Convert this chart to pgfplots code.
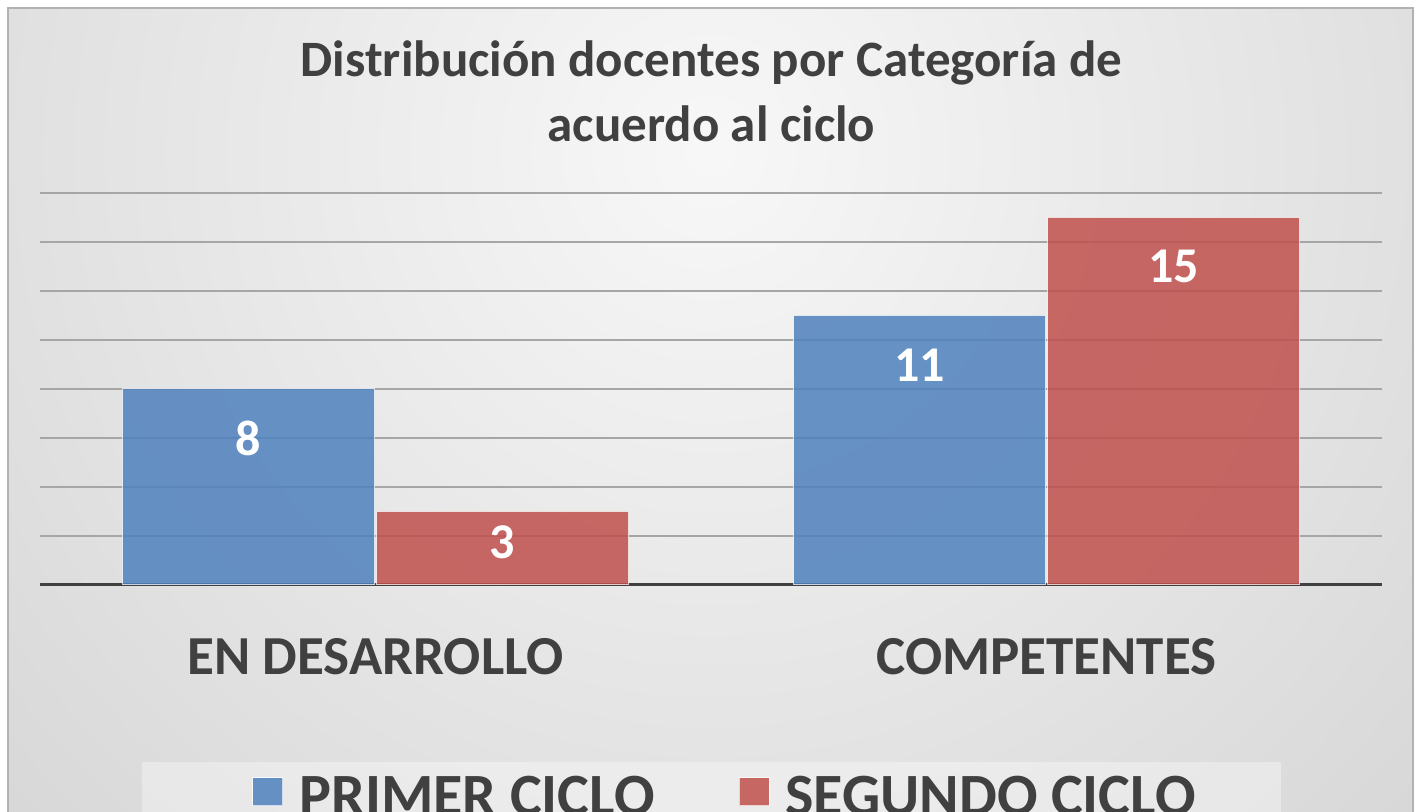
\documentclass[border=0pt]{standalone}
\usepackage{pgfplots}
\usepackage{pgfplotstable}
\pgfplotsset{compat=1.18}
\usepackage{fontspec}
\setmainfont{Carlito}
\definecolor{txt}{HTML}{404040}
\definecolor{cblue}{HTML}{4F81BD}
\definecolor{cred}{HTML}{C0504D}
\definecolor{gridc}{HTML}{A6A6A6}

\pgfplotstableread{
x y s
0 8 24.5
1 11 25
}\primer
\pgfplotstableread{
x y s
0 3 15.5
1 15 24.5
}\segundo

\begin{document}
\begin{tikzpicture}
\useasboundingbox (0,0) rectangle (711.5pt,406pt);
\fill[white] (0,0) rectangle (711.5pt,406pt);
\begin{scope}
\clip (4pt,0) rectangle (706.5pt,402pt);
\shade[inner color=white!97!black, outer color=black!21] (355pt,330pt) circle (700pt);
\end{scope}
\draw[black!30, line width=0.6pt] (4pt,0) -- (4pt,402pt) -- (706.5pt,402pt) -- (706.5pt,0);
\fill[white, fill opacity=0.35] (71pt,0) rectangle (640.5pt,25pt);

\node[anchor=base, font=\bfseries\fontsize{25.5pt}{30pt}\selectfont, text=txt] at (355.75pt,367.5pt) {Distribución docentes por Categoría de};
\node[anchor=base, font=\bfseries\fontsize{25.5pt}{30pt}\selectfont, text=txt] at (355.75pt,335pt) {acuerdo al ciclo};

\begin{axis}[
  at={(20pt,113.5pt)}, anchor=south west,
  scale only axis, width=671pt, height=196pt,
  xmin=-0.5, xmax=1.5, ymin=0, ymax=16,
  ybar=1pt, bar width=126pt,
  axis x line*=bottom, axis y line*=left,
  x axis line style={draw=txt, line width=1.5pt, -},
  y axis line style={draw=none},
  xtick={0,1}, xticklabels={EN DESARROLLO, COMPETENTES},
  xtick style={draw=none},
  xticklabel style={anchor=base, yshift=-40.5pt, font=\bfseries\fontsize{27.5pt}{32pt}\selectfont, text=txt},
  ytick={2,4,...,16}, yticklabels={},
  ytick style={draw=none},
  ymajorgrids,
  grid style={draw=gridc, line width=1pt},
  /pgf/number format/assume math mode=true,
  legend columns=2,
  legend style={draw=none, fill=none, at={(0.1535,-0.4673)}, anchor=north west,
    font=\bfseries\fontsize{30pt}{35pt}\selectfont, text=txt,
    /tikz/every even column/.append style={column sep=40pt}},
  legend image code/.code={\draw[#1, draw=white, draw opacity=0.7, line width=0.5pt] (0pt,-4pt) rectangle (15pt,10pt); \path (21pt,0pt);},
]
\addplot[fill=cblue, fill opacity=0.85, draw=white, draw opacity=0.7, line width=0.5pt,
  nodes near coords,
  visualization depends on={\thisrow{s}\as\sh},
  every node near coord/.append style={anchor=center, yshift={-\sh*1pt}, font=\bfseries\fontsize{25pt}{29pt}\selectfont, text=white, fill opacity=1, text opacity=1}
  ] table[x=x, y=y] {\primer};
\addplot[fill=cred, fill opacity=0.85, draw=white, draw opacity=0.7, line width=0.5pt,
  nodes near coords,
  visualization depends on={\thisrow{s}\as\sh},
  every node near coord/.append style={anchor=center, yshift={-\sh*1pt}, font=\bfseries\fontsize{25pt}{29pt}\selectfont, text=white, fill opacity=1, text opacity=1}
  ] table[x=x, y=y] {\segundo};
\legend{PRIMER CICLO, SEGUNDO CICLO}
\end{axis}
\end{tikzpicture}
\end{document}
